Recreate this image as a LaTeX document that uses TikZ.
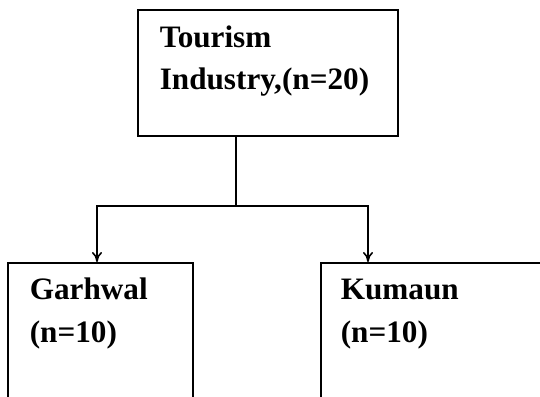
\documentclass[tikz,border=0pt]{standalone}
\usepackage{fontspec}
\setmainfont{Liberation Serif}
\usetikzlibrary{arrows.meta}

\begin{document}
\begin{tikzpicture}[x=0.5pt,y=-0.5pt,line width=0.8pt]
\tikzstyle{box}=[draw,inner sep=0pt,anchor=north west];
\tikzstyle{txt}=[inner sep=0pt,anchor=base west,font=\bfseries\fontsize{15.6}{21}\selectfont];
\tikzstyle{arr}=[-{To[length=5pt,width=5pt]}];
\clip (0,0) rectangle (540,396);
\node[box,minimum width=130pt,minimum height=63pt] (ind) at (137,9) {};
\node[box,minimum width=92.5pt,minimum height=75pt] (gar) at (7,262) {};
\node[box,minimum width=120pt,minimum height=75pt] (kum) at (320,262) {};
\node[txt] (ind1) at (159,47) {Tourism};
\node[txt] (ind2) at (159,89) {Industry,(n=20)};
\node[txt] (gar1) at (29,299) {Garhwal};
\node[txt] (gar2) at (29,342) {(n=10)};
\node[txt] (kum1) at (340,299) {Kumaun};
\node[txt] (kum2) at (340,342) {(n=10)};
\coordinate (split) at (236,206);
\draw (ind.south -| split) -- (split);
\draw[arr] (split) -| ([xshift=45pt]gar.north west);
\draw[arr] (split) -| ([xshift=24pt]kum.north west);
\end{tikzpicture}
\end{document}
